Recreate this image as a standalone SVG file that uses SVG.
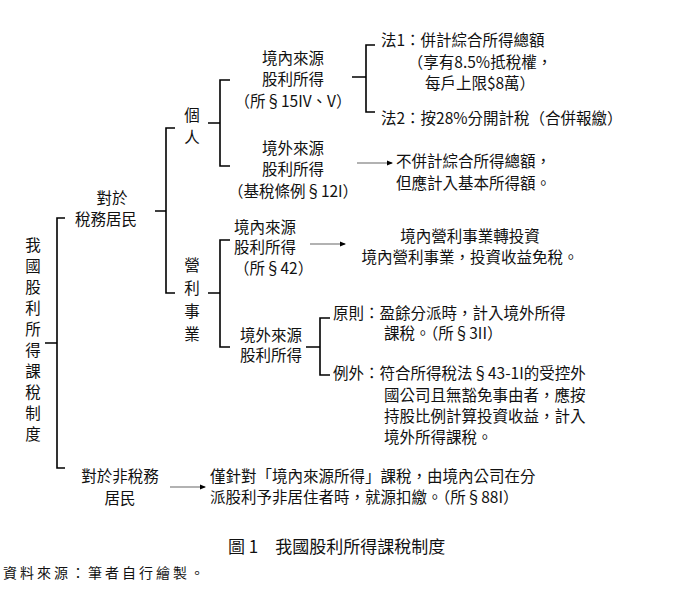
<svg xmlns="http://www.w3.org/2000/svg" width="681" height="589" viewBox="0 0 681 589">
<defs>
<marker id="ah" markerWidth="6" markerHeight="6" refX="5" refY="3" orient="auto" markerUnits="userSpaceOnUse"><path d="M0,0.5 L6,3 L0,5.5 Z" fill="#000"/></marker>
<style>
text{font-family:"Noto Sans CJK TC","Noto Sans CJK SC",sans-serif;font-size:15.5px;fill:#111}
.m{text-anchor:middle}
.b{fill:none;stroke:#000;stroke-width:1.6}
.a{fill:none;stroke:#666;stroke-width:1.2;marker-end:url(#ah)}
.cap{font-family:"Noto Sans CJK TC",serif;font-size:17px}
.src{font-size:14px;letter-spacing:3px}
</style>
</defs>
<rect width="681" height="589" fill="#fff"/>
<g id="connectors">
<path class="b" d="M45,343 H57 M65,218 H57 V468 H65"/>
<path class="b" d="M155,211 H166 M175,128 H166 V293 H175"/>
<path class="b" d="M208,123 H220 M230,80 H220 V166 H230"/>
<path class="b" d="M352,77 H366 M375,45 H366 V112 H375"/>
<path class="b" d="M208,293 H220 M230,240 H220 V347 H230"/>
<path class="b" d="M306,347 H320 M330,318 H320 V375 H330"/>
<path class="a" d="M357,163 H392"/>
<path class="a" d="M310,244 H345"/>
<path class="a" d="M170,487 H205"/>
</g>
<g id="root"><text class="m" x="33" y="251">我</text><text class="m" x="33" y="272">國</text><text class="m" x="33" y="293">股</text><text class="m" x="33" y="314">利</text><text class="m" x="33" y="335">所</text><text class="m" x="33" y="356">得</text><text class="m" x="33" y="377">課</text><text class="m" x="33" y="398">稅</text><text class="m" x="33" y="419">制</text><text class="m" x="33" y="440">度</text></g>
<g id="resident"><text class="m" x="112" y="204">對於</text><text class="m" x="106" y="225">稅務居民</text></g>
<g id="individual"><text class="m" x="192" y="121">個</text><text class="m" x="192" y="143">人</text></g>
<g id="ind-domestic"><text class="m" x="293" y="64">境內來源</text><text class="m" x="293" y="85">股利所得</text><text class="m" x="293" y="107">（所§15IV、V）</text></g>
<g id="ind-foreign"><text class="m" x="293" y="154">境外來源</text><text class="m" x="293" y="175">股利所得</text><text class="m" x="293" y="197">（基稅條例§12I）</text></g>
<g id="method1"><text x="381" y="46">法1：併計綜合所得總額</text><text class="m" x="480" y="68">（享有8.5%抵稅權，</text><text class="m" x="480" y="89">每戶上限$8萬）</text></g>
<g id="method2"><text x="381" y="124">法2：按28%分開計稅（合併報繳）</text></g>
<g id="foreign-ind-result"><text x="396" y="167">不併計綜合所得總額，</text><text x="396" y="189">但應計入基本所得額。</text></g>
<g id="business"><text class="m" x="192" y="271">營</text><text class="m" x="192" y="294">利</text><text class="m" x="192" y="317">事</text><text class="m" x="192" y="340">業</text></g>
<g id="bus-domestic"><text x="234" y="233">境內來源</text><text x="234" y="253">股利所得</text><text x="234" y="274">（所§42）</text></g>
<g id="bus-domestic-result"><text class="m" x="470" y="242">境內營利事業轉投資</text><text class="m" x="470" y="263">境內營利事業，投資收益免稅。</text></g>
<g id="bus-foreign"><text class="m" x="271" y="341">境外來源</text><text class="m" x="271" y="361">股利所得</text></g>
<g id="principle"><text x="333" y="319">原則：盈餘分派時，計入境外所得</text><text x="384" y="339">課稅。（所§3II）</text></g>
<g id="exception"><text x="333" y="379">例外：符合所得稅法§43-1I的受控外</text><text x="384" y="401">國公司且無豁免事由者，應按</text><text x="384" y="422">持股比例計算投資收益，計入</text><text x="384" y="443">境外所得課稅。</text></g>
<g id="nonresident"><text class="m" x="120" y="482">對於非稅務</text><text class="m" x="120" y="504">居民</text></g>
<g id="nonresident-result"><text x="210" y="482">僅針對「境內來源所得」課稅，由境內公司在分</text><text x="210" y="503">派股利予非居住者時，就源扣繳。（所§88I）</text></g>
<text class="cap" x="228" y="553">圖 1　我國股利所得課稅制度</text>
<text class="src" x="3" y="578">資料來源：筆者自行繪製。</text>
</svg>
